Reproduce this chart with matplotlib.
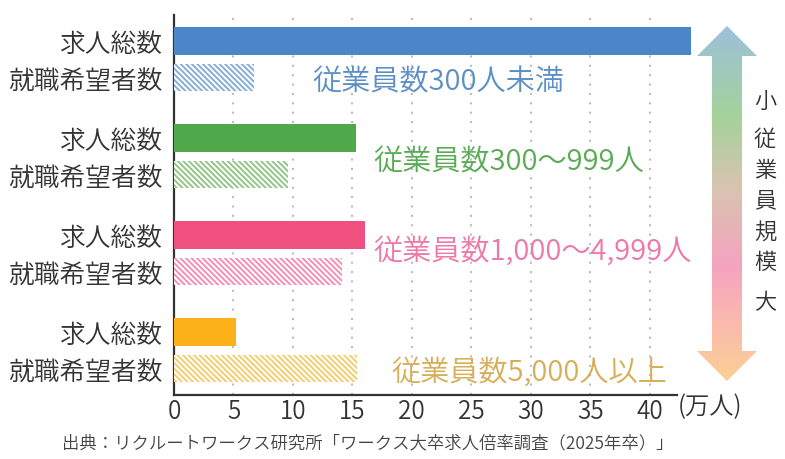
import matplotlib.pyplot as plt
import numpy as np
from matplotlib.patches import Polygon

plt.rcParams['font.family'] = ['Noto Sans CJK JP', 'DejaVu Sans']
plt.rcParams['font.weight'] = 350
plt.rcParams['hatch.linewidth'] = 1.4

# --- data (万人) ---
groups = ['従業員数300人未満', '従業員数300〜999人', '従業員数1,000〜4,999人', '従業員数5,000人以上']
jobs = [43.5, 15.3, 16.1, 5.2]        # 求人総数
seekers = [6.7, 9.6, 14.1, 15.4]      # 就職希望者数
row_labels = ['求人総数', '就職希望者数']
xticks = [0, 5, 10, 15, 20, 25, 30, 35, 40]

solid_colors = ['#4a86c8', '#4fa84a', '#f0507f', '#fbb117']
hatch_colors = ['#86aed6', '#93c586', '#f290b4', '#f3cd72']
text_colors = ['#5b8fc6', '#5aab55', '#ee78a6', '#d6ae58']
label_pos = [(11.6, 0.42), (16.8, 1.24), (16.8, 2.16), (18.3, 3.41)]

W, H = 785, 460
fig = plt.figure(figsize=(W / 100, H / 100), dpi=100)
ax = fig.add_axes([174 / W, 1 - 396 / H, (677 - 174) / W, (396 - 16) / H])

pos = np.arange(len(groups))
hpos = pos + 0.38
bh = 0.28

for i in range(len(groups)):
    ax.barh(pos[i], jobs[i], height=bh, color=solid_colors[i], clip_on=False, zorder=3)
    ax.barh(hpos[i], seekers[i], height=bh, facecolor='white', edgecolor=hatch_colors[i],
            hatch='\\\\\\\\\\\\', linewidth=0, zorder=3)
    ax.text(label_pos[i][0], label_pos[i][1], groups[i], color=text_colors[i],
            fontsize=21, va='center', ha='left', zorder=4)

ax.set_xlim(0, 42.3)
ax.set_ylim(3.65, -0.268)

ax.set_xticks(xticks)
ax.set_xticklabels([str(v) for v in xticks])
ticks_y = np.concatenate([pos, hpos])
ax.set_yticks(ticks_y)
ax.set_yticklabels([row_labels[0]] * len(pos) + [row_labels[1]] * len(pos))
ax.tick_params(axis='both', length=0, colors='#333333')
ax.tick_params(axis='y', labelsize=18.5, pad=8)
ax.tick_params(axis='x', labelsize=17.5, pad=2)

for v in xticks[1:]:
    ax.axvline(v, color='#bdbdbd', linestyle=(0, (1, 3.5)), linewidth=1.5, zorder=1)

for s in ['top', 'right']:
    ax.spines[s].set_visible(False)
ax.spines['left'].set_color('#333333')
ax.spines['bottom'].set_color('#333333')
ax.spines['left'].set_linewidth(1.6)
ax.spines['bottom'].set_linewidth(1.6)

fig.text(710 / W, 1 - 407 / H, '(万人)', fontsize=17.5, color='#333333', ha='center', va='center')
fig.text(368 / W, 1 - 443 / H, '出典：リクルートワークス研究所「ワークス大卒求人倍率調査（2025年卒）」',
         fontsize=12.5, color='#444444', ha='center', va='center')

# --- gradient double arrow (pixel coords) ---
ov = fig.add_axes([0, 0, 1, 1], facecolor='none')
ov.set_xlim(0, W)
ov.set_ylim(H, 0)
ov.axis('off')
arrow = Polygon([(727, 27), (757, 57), (742, 57), (742, 352), (757, 352), (727, 382),
                 (697, 352), (712, 352), (712, 57), (697, 57)],
                closed=True, facecolor='none', edgecolor='none')
ov.add_patch(arrow)
stops = [0.0, 0.25, 0.45, 0.68, 0.82, 1.0]
cols = np.array([[157, 192, 220], [163, 210, 154], [216, 196, 176],
                 [245, 163, 192], [249, 184, 176], [251, 207, 149]]) / 255
t = np.linspace(0, 1, 200)
grad = np.stack([np.interp(t, stops, cols[:, c]) for c in range(3)], axis=1)
img = ov.imshow(grad[:, None, :], extent=(697, 757, 382, 27), aspect='auto', zorder=2)
img.set_clip_path(arrow)

fig.text(765 / W, 1 - 102 / H, '小', fontsize=16, color='#333333', ha='center', va='center')
for k, ch in enumerate('従業員規模'):
    fig.text(765 / W, 1 - (140 + k * 30.75) / H, ch, fontsize=16, color='#333333',
             ha='center', va='center')
fig.text(765 / W, 1 - 303 / H, '大', fontsize=16, color='#333333', ha='center', va='center')

fig.savefig('out.png', dpi=100)
